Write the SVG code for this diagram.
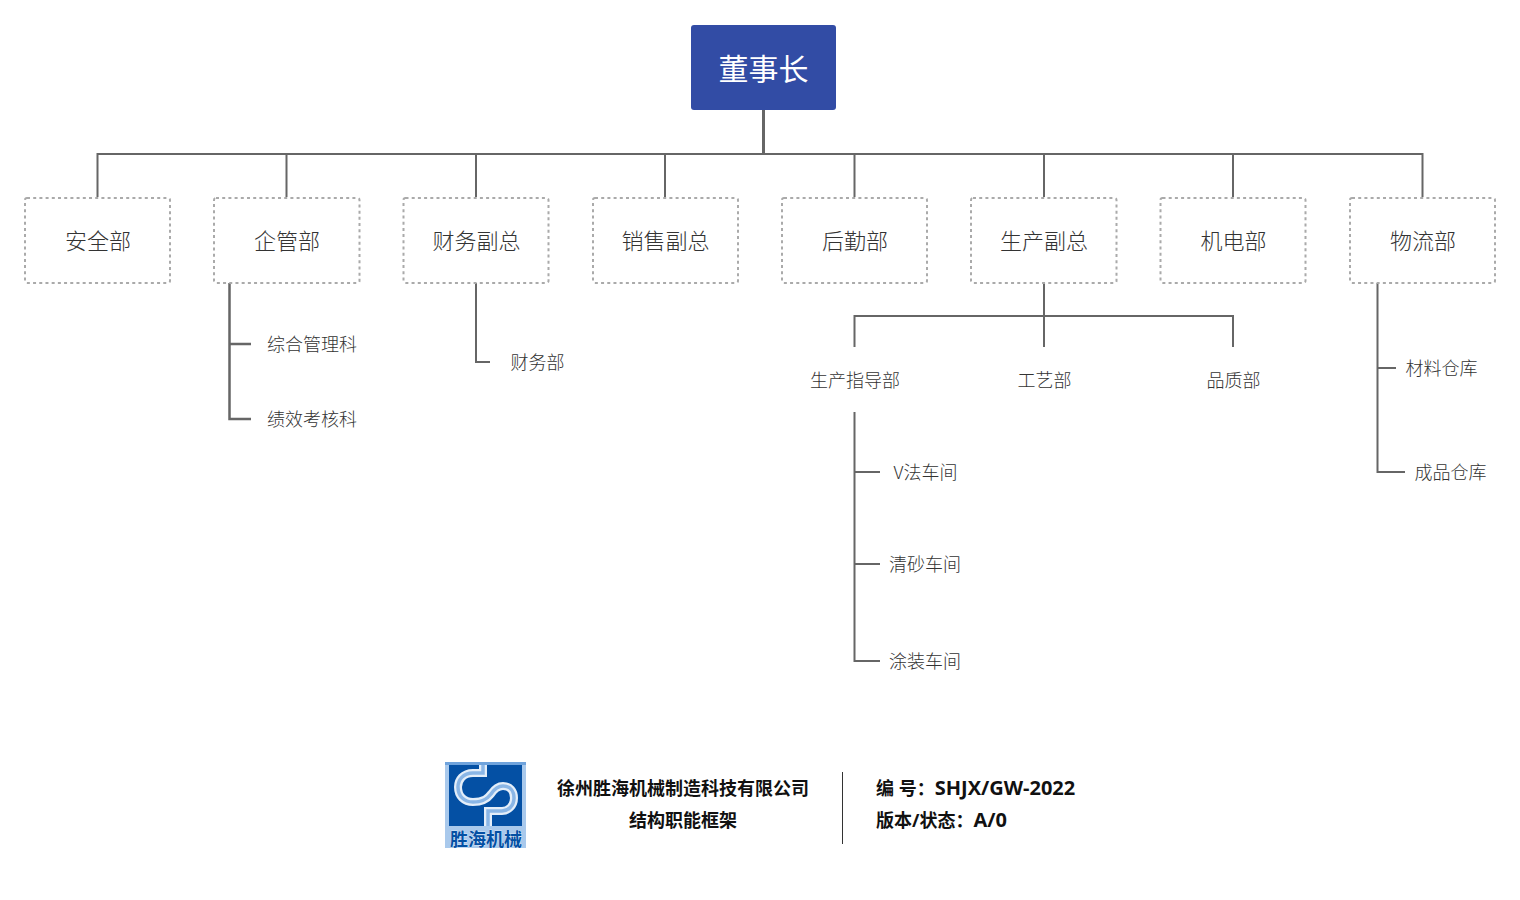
<svg xmlns="http://www.w3.org/2000/svg" width="1520" height="900" viewBox="0 0 1520 900">
<style>
text{font-family:"Noto Sans CJK SC","Noto Sans",sans-serif;text-anchor:middle}
.d{fill:#fff;stroke:#aaa;stroke-width:2;stroke-dasharray:3 3.2}
.dt{font-size:22px;fill:#333;font-weight:300}
.st{font-size:18px;fill:#333;font-weight:300}
.ft{font-size:18px;fill:#111;font-weight:700;font-family:"Open Sans","Noto Sans CJK SC",sans-serif}
.lat{font-size:20px}
.c{fill:none;stroke:#666;stroke-width:2}
</style>
<rect width="1520" height="900" fill="#fff"/>
<g id="connectors">
<path class="c" d="M763.500 110V154" style="stroke-width:3"/>
<path class="c" d="M97.500 197V154H1422.500V197M286.500 154V197M476 154V197M665 154V197M854.500 154V197M1044 154V197M1233 154V197"/>
<path class="c" d="M229.500 283V419H251M229.500 344H251" style="stroke-width:2.500"/>
<path class="c" d="M476 283V362H490"/>
<path class="c" d="M854.500 347V316H1233V347M1044 283V347"/>
<path class="c" d="M854.500 412V661H880M854.500 472H880M854.500 564H880"/>
<path class="c" d="M1377.500 283V472H1405M1377.500 368H1396"/>
<path d="M842.500 772V844" fill="none" stroke="#333" stroke-width="1"/>
</g>
<g id="n-chairman"><rect x="691" y="25" width="145" height="85" rx="3" fill="#324ca5"/><text x="763.500" y="79.500" font-size="30" fill="#fff" font-weight="400">董事长</text></g>
<g id="n-safety"><rect class="d" x="25" y="198" width="145" height="85" rx="2"/><text class="dt" x="98" y="248.500">安全部</text></g>
<g id="n-admin"><rect class="d" x="214" y="198" width="145.500" height="85" rx="2"/><text class="dt" x="287" y="248.500">企管部</text></g>
<g id="n-finance"><rect class="d" x="403.500" y="198" width="145" height="85" rx="2"/><text class="dt" x="476.500" y="248.500">财务副总</text></g>
<g id="n-sales"><rect class="d" x="593" y="198" width="145" height="85" rx="2"/><text class="dt" x="665.500" y="248.500">销售副总</text></g>
<g id="n-logistics"><rect class="d" x="782" y="198" width="145" height="85" rx="2"/><text class="dt" x="855" y="248.500">后勤部</text></g>
<g id="n-production"><rect class="d" x="971" y="198" width="145.500" height="85" rx="2"/><text class="dt" x="1044" y="248.500">生产副总</text></g>
<g id="n-mech"><rect class="d" x="1160.500" y="198" width="145" height="85" rx="2"/><text class="dt" x="1233.500" y="248.500">机电部</text></g>
<g id="n-material"><rect class="d" x="1350" y="198" width="145" height="85" rx="2"/><text class="dt" x="1423" y="248.500">物流部</text></g>
<g id="n-zonghe"><text class="st" x="312" y="351">综合管理科</text></g>
<g id="n-jixiao"><text class="st" x="312" y="426">绩效考核科</text></g>
<g id="n-caiwu"><text class="st" x="537.500" y="369">财务部</text></g>
<g id="n-zhidao"><text class="st" x="855" y="387">生产指导部</text></g>
<g id="n-gongyi"><text class="st" x="1044.500" y="387">工艺部</text></g>
<g id="n-pinzhi"><text class="st" x="1233.500" y="387">品质部</text></g>
<g id="n-v"><text class="st" x="925.500" y="479">V法车间</text></g>
<g id="n-qingsha"><text class="st" x="925" y="571">清砂车间</text></g>
<g id="n-tuzhuang"><text class="st" x="925" y="668">涂装车间</text></g>
<g id="n-cailiao"><text class="st" x="1441.500" y="375">材料仓库</text></g>
<g id="n-chengpin"><text class="st" x="1450.500" y="479">成品仓库</text></g>
<g id="logo">
<rect x="445" y="762" width="81" height="86" fill="#a9c9ec"/>
<rect x="445" y="762" width="81" height="3" fill="#6fa3dc"/>
<rect x="449" y="765" width="73" height="61" fill="#0450a4"/>
<path d="M483 765V773H473C463 773 458 780 458 787C458 796 464 802 473 802C484 802 488 798 491 794C495 788 499 786 503 786C510 786 514 791 514 798C514 806 508 811 502 811H488V826" fill="none" stroke="#e4eef9" stroke-width="8"/>
<path d="M483 765V773H473C463 773 458 780 458 787C458 796 464 802 473 802C484 802 488 798 491 794C495 788 499 786 503 786C510 786 514 791 514 798C514 806 508 811 502 811H488V826" fill="none" stroke="#8ab6e6" stroke-width="3.500"/>
<text x="486" y="845.500" font-size="18" font-weight="700" fill="#0450a4" stroke="#fff" stroke-width="0.400" paint-order="stroke">胜海机械</text>
</g>
<g id="footer">
<text class="ft" x="683" y="795">徐州胜海机械制造科技有限公司</text>
<text class="ft" x="683" y="827">结构职能框架</text>
<text class="ft" x="876" y="795" style="text-anchor:start">编 号：<tspan class="lat">SHJX/GW-2022</tspan></text>
<text class="ft" x="876" y="827" style="text-anchor:start">版本/状态：<tspan class="lat">A/0</tspan></text>
</g>
</svg>
